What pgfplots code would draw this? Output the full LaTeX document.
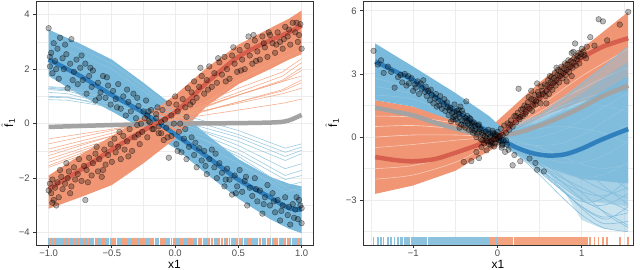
\documentclass[border=0pt]{standalone}
\usepackage{fontspec}
\setmainfont{Liberation Sans}
\usepackage{pgfplots}
\usepackage{pgfplotstable}
\pgfplotsset{compat=1.18}
\definecolor{grey20}{RGB}{51,51,51}
\definecolor{grey30}{RGB}{77,77,77}
\definecolor{grey92}{RGB}{235,235,235}
\definecolor{bband}{RGB}{122,186,220}
\definecolor{bline}{RGB}{146,197,222}
\definecolor{bline2}{RGB}{128,188,220}
\definecolor{bthick}{RGB}{48,128,189}
\definecolor{oband}{RGB}{240,150,116}
\definecolor{oline}{RGB}{244,165,130}
\definecolor{othick}{RGB}{214,96,77}
\definecolor{gthick}{RGB}{163,163,163}
\definecolor{brug}{RGB}{140,194,221}
\definecolor{orug}{RGB}{243,163,128}

\pgfplotstableread{
x y
-1.00 -2.45
-0.99 -2.20
-0.98 -2.55
-0.97 -2.05
-0.97 -2.90
-0.96 -2.80
-0.95 -2.35
-0.94 -3.00
-0.93 -2.15
-0.92 -2.70
-0.91 -1.70
-0.90 -1.95
-0.89 -2.40
-0.87 -2.20
-0.86 -1.45
-0.85 -2.00
-0.84 -1.75
-0.83 -2.55
-0.82 -2.30
-0.80 -1.60
-0.79 -2.05
-0.77 -1.85
-0.76 -1.30
-0.74 -2.10
-0.72 -1.55
-0.71 -2.80
-0.70 -1.70
-0.69 -2.15
-0.68 -1.25
-0.66 -1.90
-0.65 -1.45
-0.63 -1.10
-0.62 -0.85
-0.61 -1.75
-0.60 -1.30
-0.58 -1.95
-0.57 -1.70
-0.56 -0.95
-0.55 -1.50
-0.53 -1.15
-0.51 -0.75
-0.50 -1.40
-0.48 -0.55
-0.47 -1.05
-0.45 -0.85
-0.44 -0.30
-0.43 -1.30
-0.41 -0.45
-0.40 -0.95
-0.38 -0.65
-0.37 -1.20
-0.36 -0.20
-0.34 -1.00
-0.32 -0.50
-0.30 -0.05
-0.29 -0.40
-0.28 -0.75
-0.26 -0.30
-0.24 0.20
-0.22 -0.50
-0.21 0.45
-0.20 0.05
-0.18 -0.20
-0.15 0.35
-0.13 -0.10
-0.11 -0.35
-0.10 0.50
-0.08 0.15
-0.05 0.75
-0.03 0.30
0.00 1.00
0.01 0.70
0.02 0.45
0.04 0.00
0.06 0.90
0.08 0.60
0.09 0.25
0.10 1.30
0.12 0.70
0.13 1.15
0.14 0.80
0.15 1.55
0.17 0.95
0.19 1.35
0.20 2.05
0.21 1.75
0.23 1.10
0.25 1.60
0.26 1.25
0.27 2.10
0.29 1.35
0.31 1.85
0.33 1.50
0.34 2.40
0.35 2.25
0.37 1.80
0.39 2.45
0.40 1.55
0.41 2.00
0.43 1.65
0.45 2.50
0.46 2.80
0.47 2.20
0.49 1.90
0.51 2.70
0.52 1.95
0.53 2.35
0.55 2.00
0.57 2.85
0.58 3.20
0.59 2.50
0.61 2.20
0.62 3.25
0.63 3.05
0.64 2.30
0.65 2.65
0.67 2.35
0.69 3.20
0.70 2.95
0.71 2.80
0.73 2.45
0.74 3.35
0.75 3.25
0.77 2.95
0.79 2.60
0.80 2.90
0.81 3.35
0.83 3.00
0.85 2.75
0.86 3.10
0.87 3.55
0.89 3.20
0.90 3.45
0.91 2.90
0.93 3.70
0.95 3.35
0.96 3.70
0.97 3.00
0.98 3.25
0.99 3.65
1.00 2.75
}\LO

\pgfplotstableread{
x y
-1.00 3.50
-0.99 2.10
-0.99 2.45
-0.98 2.60
-0.97 1.85
-0.96 2.95
-0.95 2.30
-0.94 2.00
-0.93 2.75
-0.92 1.65
-0.91 3.15
-0.89 2.40
-0.88 2.00
-0.87 2.90
-0.86 2.55
-0.85 1.30
-0.83 2.20
-0.82 3.10
-0.81 1.60
-0.80 1.90
-0.78 2.35
-0.77 1.45
-0.75 2.05
-0.74 2.50
-0.73 1.60
-0.71 2.20
-0.70 1.10
-0.68 1.75
-0.67 2.05
-0.66 1.35
-0.65 1.95
-0.63 0.85
-0.61 1.50
-0.60 0.95
-0.59 1.15
-0.57 1.75
-0.55 0.95
-0.54 1.70
-0.53 1.40
-0.51 0.70
-0.49 1.20
-0.47 0.90
-0.46 0.60
-0.45 1.45
-0.43 0.55
-0.41 1.00
-0.39 0.30
-0.38 1.25
-0.37 0.80
-0.35 0.45
-0.33 1.10
-0.31 0.20
-0.30 0.95
-0.29 0.65
-0.27 0.00
-0.25 0.45
-0.23 0.85
-0.22 0.30
-0.21 0.10
-0.19 0.50
-0.17 -0.20
-0.15 0.20
-0.14 0.60
-0.13 -0.35
-0.11 0.05
-0.09 -0.60
-0.07 -0.15
-0.06 -0.50
-0.05 -1.25
-0.03 -0.45
-0.01 0.00
0.01 -0.75
0.02 -1.00
0.03 -0.30
0.05 -1.05
0.07 -0.55
0.08 -0.20
0.09 -1.30
0.11 -0.85
0.13 -0.50
0.15 -1.15
0.16 -0.70
0.17 -1.60
0.19 -0.90
0.21 -1.35
0.23 -1.00
0.24 -1.55
0.25 -1.85
0.27 -1.30
0.29 -0.95
0.31 -1.60
0.32 -1.10
0.33 -2.00
0.35 -1.45
0.37 -1.80
0.39 -2.30
0.40 -2.05
0.41 -1.65
0.43 -2.05
0.45 -2.60
0.47 -1.90
0.48 -2.55
0.49 -2.30
0.51 -1.70
0.53 -2.50
0.55 -2.10
0.56 -1.95
0.57 -3.00
0.59 -2.35
0.61 -2.65
0.63 -2.00
0.64 -2.40
0.65 -2.85
0.67 -2.45
0.69 -3.30
0.70 -2.95
0.71 -2.70
0.73 -2.25
0.75 -3.00
0.77 -2.55
0.78 -2.85
0.79 -3.25
0.81 -2.80
0.83 -3.55
0.84 -3.20
0.85 -3.00
0.87 -2.70
0.89 -3.35
0.90 -3.05
0.91 -3.70
0.93 -2.95
0.94 -3.45
0.95 -3.15
0.96 -2.70
0.97 -3.50
0.98 -2.80
0.99 -3.00
1.00 -3.65
1.00 -3.10
}\LB

\pgfplotstableread{
x y
-1.47 4.10
-1.42 3.45
-1.38 3.65
-1.35 3.05
-1.30 3.35
-1.26 3.10
-1.22 2.35
-1.18 2.85
-1.15 2.95
-1.13 2.60
-1.10 3.00
-1.08 2.45
-1.06 2.90
-1.05 2.55
-1.02 2.80
-1.00 2.20
-0.98 2.50
-0.97 2.35
-0.95 2.65
-0.93 2.05
-0.91 2.55
-0.90 2.30
-0.88 2.70
-0.86 2.15
-0.85 2.40
-0.84 1.95
-0.82 2.20
-0.80 1.75
-0.79 2.25
-0.78 2.00
-0.76 1.60
-0.74 1.85
-0.73 2.05
-0.72 1.45
-0.70 1.70
-0.69 1.50
-0.68 1.95
-0.66 1.35
-0.64 1.55
-0.63 1.80
-0.62 1.25
-0.60 1.65
-0.59 1.40
-0.58 1.05
-0.57 1.30
-0.56 1.40
-0.55 0.75
-0.54 1.15
-0.53 0.85
-0.52 1.20
-0.52 0.95
-0.51 1.55
-0.50 1.00
-0.49 0.85
-0.48 1.25
-0.47 0.70
-0.46 1.10
-0.46 1.30
-0.45 0.95
-0.45 0.45
-0.44 1.45
-0.43 0.60
-0.42 0.80
-0.42 1.25
-0.41 1.10
-0.40 0.55
-0.39 0.75
-0.38 0.90
-0.38 0.45
-0.37 1.70
-0.36 1.00
-0.36 0.75
-0.35 0.65
-0.34 0.35
-0.33 0.60
-0.33 0.90
-0.32 0.85
-0.31 0.50
-0.30 0.35
-0.30 0.65
-0.29 0.20
-0.28 0.70
-0.27 0.55
-0.27 0.30
-0.26 0.40
-0.25 0.00
-0.24 0.15
-0.23 0.55
-0.22 0.25
-0.22 0.60
-0.21 0.40
-0.20 -0.10
-0.19 0.35
-0.18 -0.15
-0.18 0.20
-0.17 0.10
-0.16 -0.30
-0.15 0.05
-0.14 0.25
-0.14 -0.15
-0.13 -0.05
-0.12 -0.20
-0.11 0.15
-0.11 0.35
-0.10 -0.35
-0.09 0.00
-0.08 0.05
-0.08 -0.40
-0.07 -0.20
-0.06 -0.30
-0.05 0.20
-0.05 -0.10
-0.04 -0.45
-0.03 0.15
-0.03 -0.30
-0.02 -0.10
-0.01 0.10
0.00 -0.05
0.01 -0.25
0.02 0.00
0.03 0.05
0.04 -0.20
0.05 -0.50
0.06 -0.35
0.07 -0.15
0.09 -0.70
0.10 -0.15
0.11 -0.35
-0.40 -1.18
-0.31 -1.14
-0.22 -1.00
-0.25 -0.71
-0.19 -0.47
-0.13 -0.63
}\RB

\pgfplotstableread{
x y
-0.08 -0.25
-0.06 0.30
-0.03 0.05
0.00 0.25
0.02 -0.15
0.04 0.40
0.05 -0.40
0.06 0.10
0.08 0.55
0.10 0.20
0.12 0.65
0.13 -0.60
0.14 0.35
0.15 0.60
0.16 0.80
0.18 0.50
0.18 -1.34
0.20 1.00
0.20 -0.85
0.22 0.70
0.22 1.00
0.24 1.15
0.25 2.30
0.26 0.85
0.27 -1.15
0.27 0.95
0.28 1.30
0.30 1.00
0.30 1.35
0.32 1.50
0.33 1.10
0.34 1.20
0.35 1.45
0.36 1.65
0.37 1.90
0.38 1.35
0.38 -1.02
0.40 1.80
0.40 2.20
0.41 1.25
0.42 1.50
0.43 1.75
0.44 2.00
0.45 -1.23
0.45 1.55
0.46 1.70
0.47 2.55
0.47 -1.55
0.48 2.15
0.49 2.00
0.50 1.85
0.51 1.60
0.52 2.40
0.53 2.20
0.54 2.05
0.55 -1.63
0.56 2.50
0.57 1.95
0.58 2.20
0.58 1.60
0.59 2.45
0.60 2.70
0.61 2.05
0.62 2.35
0.62 2.90
0.63 2.60
0.64 2.85
0.65 2.25
0.66 2.55
0.67 2.80
0.68 3.05
0.69 2.45
0.70 2.70
0.70 3.30
0.71 2.95
0.72 3.20
0.73 2.60
0.74 2.90
0.75 3.10
0.76 3.35
0.77 2.80
0.78 3.05
0.79 3.25
0.80 3.50
0.81 2.95
0.82 3.20
0.82 2.65
0.83 3.45
0.84 3.65
0.85 3.10
0.86 3.35
0.87 3.60
0.88 4.00
0.88 2.90
0.89 3.30
0.90 3.55
0.90 4.05
0.91 3.75
0.92 4.45
0.93 3.40
0.94 3.70
0.95 3.85
0.96 4.00
0.97 3.50
0.98 3.80
0.99 3.95
1.00 4.20
1.02 4.05
1.03 3.90
1.05 3.75
1.06 4.30
1.10 4.75
1.15 4.35
1.20 5.60
1.25 5.50
1.30 4.60
1.45 5.35
1.55 5.95
}\RO

\pgfplotsset{
  panel/.style={
    scale only axis, height=244bp,
    axis line style={draw=grey20, line width=0.8bp},
    tick align=outside, xtick pos=left, ytick pos=left,
    major tick length=2.75bp, minor tick length=0pt,
    tick style={draw=grey20, line width=0.8bp},
    grid=both,
    major grid style={draw=grey92, line width=1bp},
    minor grid style={draw=grey92, line width=0.5bp},
    tick label style={font=\fontsize{9.5}{11}\selectfont, text=grey30},
    xticklabel style={yshift=1bp},
    label style={font=\fontsize{12}{14}\selectfont},
    xlabel={x1},
    ylabel={$\hat{\mbox{f}}_{\mbox{\fontsize{8.5}{9}\selectfont 1}}$},
    xlabel style={at={(axis description cs:0.5,0)}, anchor=center, yshift=-19bp},
  },
  pts/.style={only marks, mark=*, mark size=2.8bp,
    mark options={fill=black, fill opacity=0.28, draw=black, draw opacity=0.45, line width=0.5bp}},
  thin/.style={line width=0.6bp, opacity=0.9},
  thick/.style={line width=4.5bp, smooth, tension=0.5},
}

\begin{document}
\begin{tikzpicture}
\useasboundingbox (0,0) rectangle (640bp,270bp);
% ---------------- left panel ----------------
\begin{axis}[panel, at={(36bp,25bp)}, anchor=south west, width=277bp,
  xmin=-1.1, xmax=1.09, ymin=-4.45, ymax=4.5,
  xtick={-1,-0.5,0,0.5,1}, xticklabels={−1.0,−0.5,0.0,0.5,1.0},
  minor xtick={-0.75,-0.25,0.25,0.75},
  ytick={-4,-2,0,2,4}, yticklabels={−4,−2,0,2,4},
  minor ytick={-3,-1,1,3},
  ylabel style={at={(axis description cs:0,0.5)}, anchor=center, yshift=28bp},
]
% blue band
\addplot[fill=bband, draw=none] coordinates {
(-1,3.45) (-0.75,2.93) (-0.5,2.35) (-0.25,1.5) (0,0.6) (0.25,-0.4) (0.5,-1.3) (0.75,-1.95) (0.9,-2.2) (1,-2.3)
(1,-4.02) (0.9,-3.85) (0.75,-3.5) (0.5,-2.75) (0.25,-1.85) (0,-0.9) (-0.25,-0.2) (-0.5,0.45) (-0.75,1.05) (-1,1.75)} -- cycle;
% orange band
\addplot[fill=oband, draw=none] coordinates {
(-1,-1.9) (-0.75,-1.15) (-0.5,-0.45) (-0.25,0.25) (0,1.05) (0.25,2.05) (0.5,2.9) (0.75,3.5) (0.9,3.85) (1,4.15)
(1,2.55) (0.9,2.35) (0.75,2.0) (0.5,1.45) (0.25,0.65) (0,-0.55) (-0.25,-1.45) (-0.5,-2.25) (-0.75,-2.7) (-1,-3.12)} -- cycle;
% light streaks inside the bands
\addplot[thin, bline, opacity=0.8] coordinates {(-1,3.2) (-0.75,2.75) (-0.5,2.2) (-0.25,1.35) (0,0.45)};
\addplot[thin, bline, opacity=0.8] coordinates {(-1,2.9) (-0.75,2.5) (-0.5,2.0) (-0.25,1.2) (0,0.35)};
\addplot[thin, bline, opacity=0.8] coordinates {(0.5,-1.5) (0.75,-2.1) (0.9,-2.4) (1,-2.5)};
\addplot[thin, oline, opacity=0.8] coordinates {(0.25,0.8) (0.5,1.6) (0.75,2.2) (0.9,2.5) (1,2.75)};
% blue outlier curves
\addplot[thin, bline] coordinates {(-1,1.36) (-0.85,1.32) (-0.5,1.05) (0,0.4) (0.5,-0.25) (0.87,-0.9) (1,-0.74)};
\addplot[thin, bline] coordinates {(-1,1.28) (-0.85,1.25) (-0.5,0.95) (0,0.3) (0.5,-0.4) (0.87,-1.05) (1,-0.86)};
\addplot[thin, bline] coordinates {(-1,0.97) (-0.85,0.95) (-0.5,0.7) (0,0.15) (0.5,-0.5) (0.87,-1.2) (1,-0.98)};
\addplot[thin, bline] coordinates {(-1,0.88) (-0.85,0.86) (-0.5,0.6) (0,0.05) (0.5,-0.65) (0.87,-1.35) (1,-1.1)};
\addplot[thin, bline] coordinates {(-1,1.3) (-0.85,1.25) (-0.5,0.9) (0,0.1) (0.5,-0.8) (0.87,-1.65) (1,-1.47)};
\addplot[thin, bline] coordinates {(-1,1.34) (-0.85,1.28) (-0.5,0.85) (0,0.0) (0.5,-0.95) (0.87,-1.9) (1,-1.71)};
\addplot[thin, bline] coordinates {(-1,1.0) (-0.85,0.98) (-0.5,0.6) (0,-0.15) (0.5,-1.1) (0.87,-2.05) (1,-1.9)};
\addplot[thin, bline] coordinates {(-1,1.25) (-0.85,1.2) (-0.5,0.75) (0,-0.1) (0.5,-1.2) (0.87,-2.3) (1,-2.14)};
\addplot[thin, bline] coordinates {(-1,1.15) (-0.85,1.1) (-0.5,0.7) (0,-0.3) (0.5,-1.45) (0.87,-2.5) (1,-2.35)};
% orange outlier curves
\addplot[thin, oline] coordinates {(-1,-0.56) (-0.5,-0.2) (0,0.15) (0.5,0.5) (0.85,0.75) (1,0.9)};
\addplot[thin, oline] coordinates {(-1,-0.74) (-0.5,-0.25) (0,0.25) (0.5,0.75) (0.85,1.1) (1,1.3)};
\addplot[thin, oline] coordinates {(-1,-0.93) (-0.5,-0.35) (0,0.2) (0.5,0.8) (0.85,1.2) (1,1.5)};
\addplot[thin, oline] coordinates {(-1,-1.05) (-0.5,-0.45) (0,0.15) (0.5,0.8) (0.85,1.25) (1,1.6)};
\addplot[thin, oline] coordinates {(-1,-1.17) (-0.5,-0.45) (0,0.3) (0.5,1.05) (0.85,1.55) (1,1.95)};
\addplot[thin, oline] coordinates {(-1,-1.3) (-0.5,-0.55) (0,0.25) (0.5,1.05) (0.85,1.6) (1,2.06)};
\addplot[thin, oline] coordinates {(-1,-1.42) (-0.5,-0.6) (0,0.3) (0.5,1.15) (0.85,1.75) (1,2.24)};
\addplot[thin, oline] coordinates {(-1,-1.54) (-0.5,-0.65) (0,0.35) (0.5,1.3) (0.85,1.9) (1,2.39)};
\addplot[thin, oline] coordinates {(-1,-1.6) (-0.5,-0.75) (0,0.2) (0.5,1.05) (0.85,1.55) (1,1.75)};
% thick summary curves
\addplot[thick, gthick] coordinates {(-1,-0.12) (-0.5,-0.05) (0,0.0) (0.5,0.02) (0.8,0.05) (0.9,0.12) (1,0.32)};
\addplot[thick, bthick] coordinates {(-1,2.35) (-0.75,1.75) (-0.5,1.05) (-0.25,0.4) (0,-0.4) (0.25,-1.2) (0.5,-2.05) (0.75,-2.7) (0.9,-3.1) (1,-3.15)};
\addplot[thick, othick] coordinates {(-1,-2.4) (-0.75,-1.7) (-0.5,-0.95) (-0.25,-0.25) (0,0.42) (0.25,1.5) (0.5,2.45) (0.75,3.05) (0.9,3.35) (1,3.6)};
% points
\addplot[pts] table[x=x, y=y] {\LO};
\addplot[pts] table[x=x, y=y] {\LB};
% rug
\addplot[only marks, mark=|, mark size=3.5bp, mark options={draw=orug, line width=1.6bp}] table[x=x, y expr=-4.31] {\LO};
\addplot[only marks, mark=|, mark size=3.5bp, mark options={draw=brug, line width=0.9bp}] table[x=x, y expr=-4.31] {\LB};
\end{axis}

% ---------------- right panel ----------------
\begin{axis}[panel, at={(363bp,25bp)}, anchor=south west, width=270bp,
  xmin=-1.595, xmax=1.607, ymin=-5.13, ymax=6.47,
  xtick={-1,0,1}, xticklabels={−1,0,1},
  minor xtick={-1.5,-0.5,0.5,1.5},
  ytick={-3,0,3,6}, yticklabels={−3,0,3,6},
  minor ytick={-4.5,-1.5,1.5,4.5},
  ylabel style={at={(axis description cs:0,0.5)}, anchor=center, yshift=31bp},
]
% orange fans
\addplot[fill=oband, draw=none] coordinates {
(-1.45,1.75) (-1,1.45) (-0.5,0.8) (-0.2,0.3) (0,0.05) (0,-0.45) (-0.25,-1.0) (-0.5,-1.6) (-1,-2.3) (-1.45,-2.7)} -- cycle;
\addplot[fill=oband, draw=none] coordinates {
(-0.05,0.6) (0.5,2.6) (1.0,4.2) (1.55,5.95) (1.55,2.2) (1.3,2.0) (1.0,1.7) (0.6,1.1) (0.3,0.5) (0,-0.1)} -- cycle;
% streaks in orange fans
\addplot[thin, white, opacity=0.6, smooth] coordinates {(-1.45,1.0) (-1,0.95) (-0.5,0.65) (-0.2,0.3) (0,0.05)};
\addplot[thin, white, opacity=0.6, smooth] coordinates {(-1.45,0.5) (-1,0.55) (-0.5,0.4) (-0.2,0.2) (0,0.0)};
\addplot[thin, white, opacity=0.6, smooth] coordinates {(-1.45,0.0) (-1,0.1) (-0.5,0.1) (-0.2,0.05) (0,0.0)};
\addplot[thin, white, opacity=0.5, smooth] coordinates {(-1.45,-0.5) (-1,-0.35) (-0.5,-0.15) (-0.2,-0.05) (0,0.0)};
\addplot[thin, white, opacity=0.5, smooth] coordinates {(-1.45,-1.5) (-1,-1.35) (-0.5,-0.85) (-0.2,-0.4) (0,-0.1)};
\addplot[thin, white, opacity=0.5, smooth] coordinates {(-1.45,-2.0) (-1,-1.8) (-0.5,-1.2) (-0.2,-0.6) (0,-0.2)};
\addplot[thin, white, opacity=0.5, smooth] coordinates {(0,0.0) (0.25,0.5) (0.5,1.0) (0.75,1.45) (1,1.8) (1.25,2.1) (1.55,2.4)};
\addplot[thin, white, opacity=0.5, smooth] coordinates {(0,0.0) (0.25,0.6) (0.5,1.2) (0.75,1.8) (1,2.3) (1.25,2.8) (1.55,3.3)};
\addplot[thin, white, opacity=0.5, smooth] coordinates {(0,0.0) (0.25,0.7) (0.5,1.45) (0.75,2.2) (1,2.9) (1.25,3.5) (1.55,4.2)};
% blue fans
\addplot[fill=bband, draw=none] coordinates {
(-1.45,4.45) (-1,3.35) (-0.5,2.1) (-0.1,1.0) (0.05,0.45) (0.05,-0.3) (-0.2,0.1) (-0.5,0.75) (-1,1.45) (-1.45,1.75)} -- cycle;
\addplot[fill=bline, fill opacity=0.5, draw=none] coordinates {
(0,0.3) (0.5,1.1) (1.0,2.6) (1.55,4.3) (1.55,-4.5) (1.25,-4.35) (1.0,-3.95) (0.76,-2.4) (0.56,-1.5) (0.3,-0.9) (0,-0.3)} -- cycle;
\addplot[fill=bband, fill opacity=0.45, draw=none] coordinates {
(0,0.25) (0.5,0.9) (1.0,2.1) (1.55,3.6) (1.55,-3.3) (1.0,-3.0) (0.5,-1.55) (0,-0.25)} -- cycle;
\addplot[fill=bband, fill opacity=0.85, draw=none] coordinates {
(0,0.2) (0.5,0.7) (1.0,1.6) (1.55,2.9) (1.55,-2.2) (1.0,-2.0) (0.5,-1.3) (0,-0.2)} -- cycle;
% blue thin lines
\addplot[thin, bline2, smooth] coordinates {(0,0.1) (0.25,0.5) (0.5,1.0) (0.75,1.7) (1,2.5) (1.25,3.3) (1.55,4.3)};
\addplot[thin, bline2, smooth] coordinates {(0,0.0) (0.25,0.3) (0.5,0.7) (0.75,1.2) (1,1.9) (1.25,2.6) (1.55,3.4)};
\addplot[thin, bline2, smooth] coordinates {(0,0.0) (0.25,0.1) (0.5,0.3) (0.75,0.7) (1,1.2) (1.25,1.9) (1.55,2.8)};
\addplot[thin, bline, smooth] coordinates {(0,0.0) (0.25,-0.1) (0.5,0.0) (0.75,0.3) (1,0.8) (1.25,1.4) (1.55,2.1)};
\addplot[thin, bline, smooth] coordinates {(0,0.0) (0.25,-0.3) (0.5,-0.4) (0.75,-0.3) (1,0.1) (1.25,0.7) (1.55,1.5)};
\addplot[thin, bline, smooth] coordinates {(0,0.0) (0.25,-0.4) (0.5,-0.7) (0.75,-0.8) (1,-0.6) (1.25,-0.1) (1.55,0.6)};
\addplot[thin, bline, smooth] coordinates {(0,-0.1) (0.25,-0.5) (0.5,-0.9) (0.75,-1.2) (1,-1.2) (1.25,-0.9) (1.55,-0.2)};
\addplot[thin, bline, smooth] coordinates {(0,-0.1) (0.25,-0.6) (0.5,-1.2) (0.75,-1.7) (1,-1.9) (1.25,-1.8) (1.55,-1.2)};
\addplot[thin, bline2, smooth] coordinates {(0,-0.1) (0.25,-0.7) (0.5,-1.4) (0.75,-2.1) (1,-2.6) (1.25,-2.8) (1.55,-2.4)};
\addplot[thin, bline2, smooth] coordinates {(0,-0.2) (0.25,-0.8) (0.5,-1.6) (0.75,-2.5) (1,-3.3) (1.25,-3.8) (1.55,-3.6)};
\addplot[thin, bline2, smooth] coordinates {(0,-0.2) (0.25,-0.9) (0.5,-1.8) (0.75,-2.8) (1,-3.7) (1.25,-4.3) (1.55,-4.5)};
\addplot[thin, bline2, smooth] coordinates {(0,-0.1) (0.25,-0.7) (0.5,-1.5) (0.75,-2.3) (1,-3.0) (1.25,-3.5) (1.55,-4.2)};
\addplot[thin, bline2, smooth] coordinates {(0,-0.1) (0.25,-0.6) (0.5,-1.3) (0.75,-1.9) (1,-2.4) (1.25,-2.9) (1.55,-3.5)};
\addplot[thin, bline2, smooth] coordinates {(0,-0.2) (0.25,-0.8) (0.5,-1.5) (0.75,-2.4) (1,-3.4) (1.25,-4.1) (1.55,-4.0)};
\addplot[thin, bline2, smooth] coordinates {(0,0.0) (0.25,-0.3) (0.5,-0.8) (0.75,-1.4) (1,-2.0) (1.25,-2.5) (1.55,-2.9)};
\addplot[thin, bline, smooth] coordinates {(0,0.0) (0.25,-0.2) (0.5,-0.5) (0.75,-0.9) (1,-1.3) (1.25,-1.5) (1.55,-1.3)};
\addplot[thin, bline, smooth] coordinates {(0,0.0) (0.25,0.2) (0.5,0.4) (0.75,0.5) (1,0.4) (1.25,0.2) (1.55,-0.3)};
\addplot[thin, bline2, smooth] coordinates {(0,0.0) (0.25,-0.1) (0.5,-0.3) (0.75,-0.7) (1,-1.4) (1.25,-2.3) (1.55,-3.2)};
\addplot[thin, bline, smooth] coordinates {(0,0.05) (0.25,0.4) (0.5,0.8) (0.75,1.2) (1,1.5) (1.25,1.5) (1.55,1.2)};
\addplot[thin, bline2, smooth] coordinates {(0,0.0) (0.25,0.0) (0.5,-0.2) (0.75,-0.6) (1,-1.0) (1.25,-1.6) (1.55,-2.5)};
\addplot[thin, bline2, smooth] coordinates {(0,-0.1) (0.3,-0.9) (0.6,-1.9) (0.9,-3.0) (1.1,-3.6) (1.3,-3.9) (1.55,-3.3)};
\addplot[thin, bline2, smooth] coordinates {(0,-0.1) (0.3,-0.8) (0.6,-1.6) (0.9,-2.6) (1.1,-3.2) (1.3,-3.2) (1.55,-2.7)};
\addplot[thin, bline2, smooth] coordinates {(0,-0.1) (0.3,-1.0) (0.6,-2.0) (0.9,-2.9) (1.1,-3.1) (1.3,-2.8) (1.55,-2.0)};
\addplot[thin, bline2, smooth] coordinates {(0,-0.1) (0.3,-0.7) (0.6,-1.4) (0.9,-2.3) (1.1,-3.0) (1.3,-3.7) (1.55,-4.3)};
\addplot[thin, bline, smooth] coordinates {(-1.45,2.0) (-1,1.8) (-0.5,1.0) (-0.2,0.35) (0,0.05)};
\addplot[thin, bline, smooth] coordinates {(-1.45,2.4) (-1,2.05) (-0.5,1.2) (-0.2,0.45) (0,0.05)};
\addplot[thin, bline, smooth] coordinates {(-1.45,2.8) (-1,2.3) (-0.5,1.4) (-0.2,0.55) (0,0.1)};
% thick summary curves
\addplot[thick, gthick] coordinates {(-1.45,1.4) (-1.2,1.2) (-1,1.03) (-0.75,0.7) (-0.5,0.4) (-0.25,0.18) (0,0.08) (0.25,0.22) (0.5,0.55) (0.75,0.95) (1.0,1.42) (1.25,1.95) (1.55,2.45)};
\addplot[thick, bthick] coordinates {(-1.45,3.6) (-1.2,3.1) (-1,2.7) (-0.75,1.95) (-0.5,1.25) (-0.25,0.6) (0,0.0) (0.2,-0.45) (0.4,-0.75) (0.6,-0.88) (0.8,-0.82) (1.0,-0.55) (1.2,-0.18) (1.4,0.15) (1.55,0.38)};
\addplot[thick, othick] coordinates {(-1.45,-0.95) (-1.2,-1.1) (-1.0,-1.15) (-0.75,-1.05) (-0.5,-0.75) (-0.25,-0.4) (0,0.0) (0.25,0.9) (0.5,1.9) (0.75,2.9) (1.0,3.75) (1.25,4.3) (1.55,4.7)};
% points
\addplot[pts] table[x=x, y=y] {\RB};
\addplot[pts] table[x=x, y=y] {\RO};
% rug
\addplot[only marks, mark=|, mark size=4bp, mark options={draw=brug, line width=1.6bp}] table[x=x, y expr=-4.93] {\RB};
\addplot[only marks, mark=|, mark size=4bp, mark options={draw=orug, line width=1.6bp}] table[x=x, y expr=-4.93] {\RO};
\end{axis}
\end{tikzpicture}
\end{document}
